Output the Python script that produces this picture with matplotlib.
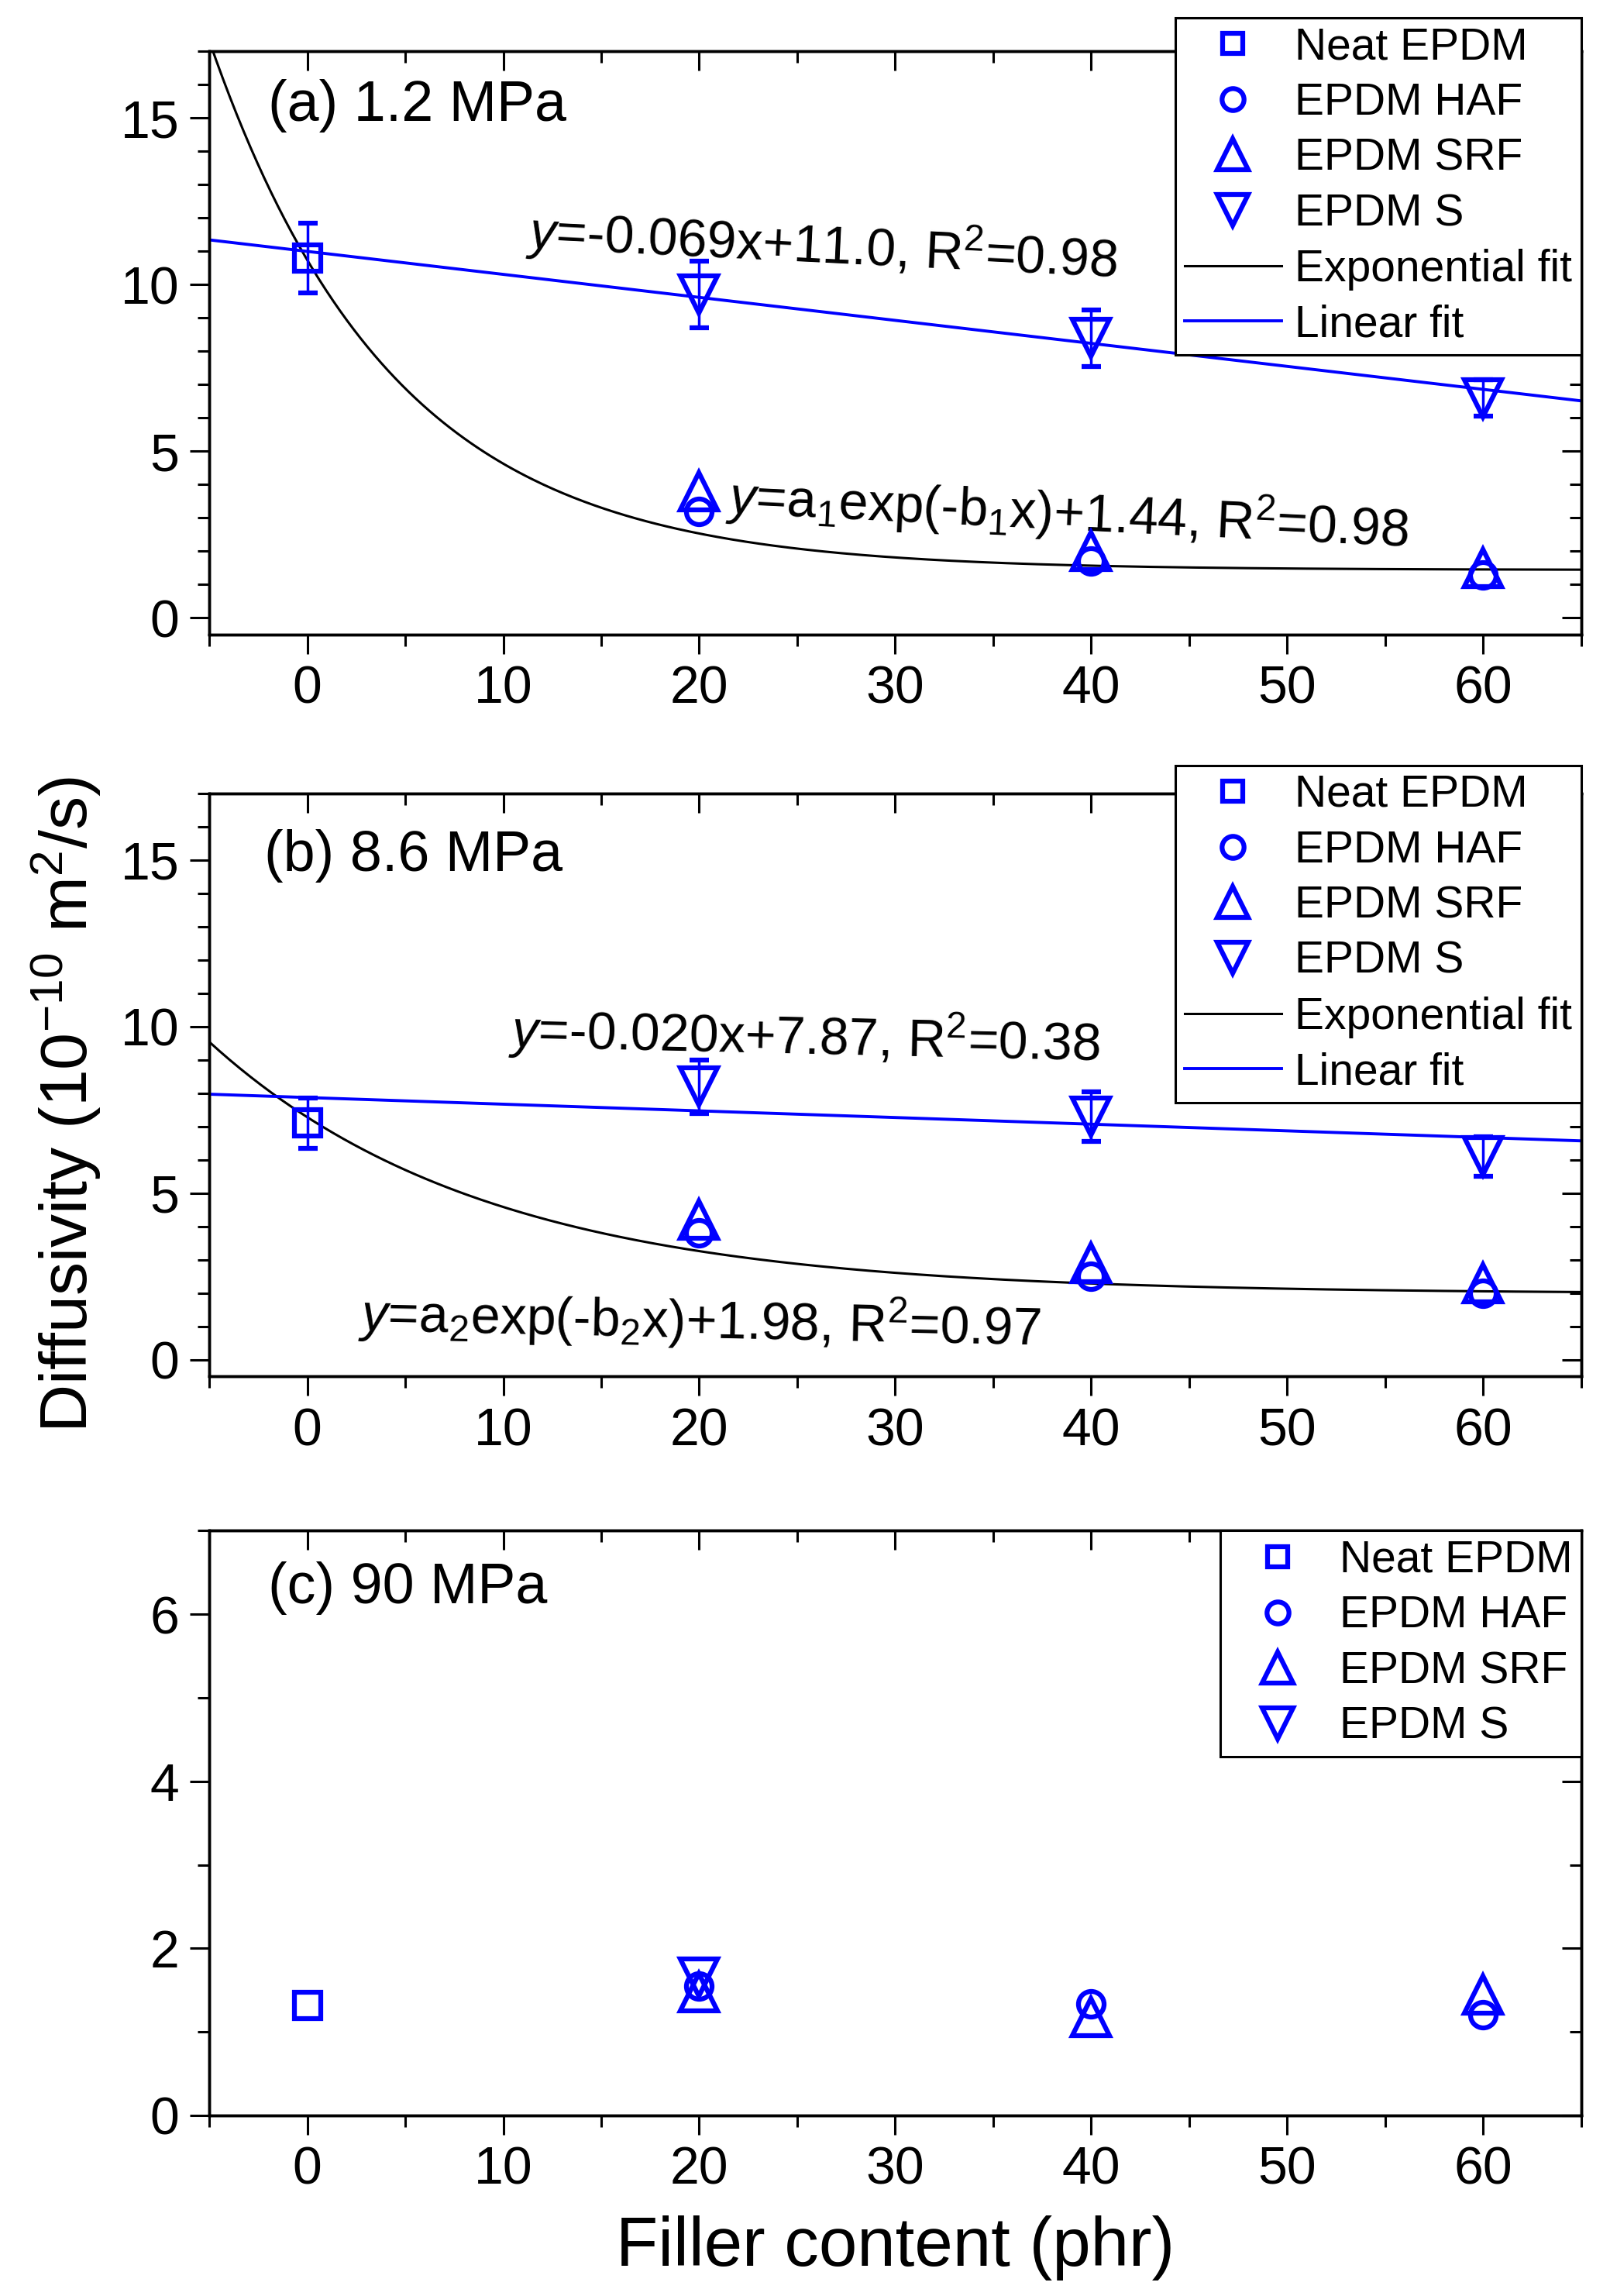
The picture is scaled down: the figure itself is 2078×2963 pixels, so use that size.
import numpy as np
import matplotlib
matplotlib.use("Agg")
import matplotlib.pyplot as plt
from matplotlib.ticker import MultipleLocator
from matplotlib.lines import Line2D

plt.rcParams['font.family'] = ['Liberation Sans', 'DejaVu Sans']
plt.rcParams['mathtext.fontset'] = 'custom'
plt.rcParams['mathtext.rm'] = 'Liberation Sans'
plt.rcParams['mathtext.it'] = 'Liberation Sans:italic'
plt.rcParams['mathtext.bf'] = 'Liberation Sans:bold'

# filler content (phr)
x_neat = [0]
x_fill = [20, 40, 60]

# (a) 1.2 MPa
a_neat = [10.8]
a_neat_err = [1.05]
a_haf = [3.2, 1.7, 1.3]
a_srf = [3.8, 2.0, 1.5]
a_s = [9.7, 8.4, 6.6]
a_s_err = [1.0, 0.85, 0.55]
a_lin = (-0.069, 11.0)          # slope, intercept
a_exp = (9.3, 0.107, 1.44)      # a1, b1, offset

# (b) 8.6 MPa
b_neat = [7.1]
b_neat_err = [0.75]
b_haf = [3.8, 2.5, 2.0]
b_srf = [4.2, 2.9, 2.3]
b_s = [8.2, 7.3, 6.1]
b_s_err = [0.8, 0.75, 0.6]
b_lin = (-0.020, 7.87)
b_exp = (5.3, 0.071, 1.98)

# (c) 90 MPa
c_neat = [1.32]
c_haf = [1.55, 1.33, 1.2]
c_srf = [1.47, 1.18, 1.45]
x_c_s = [20]
c_s = [1.65]

BLUE = '#0000ff'
FS_TICK = 49
FS_LEG = 41
MS = 34
MEW = 4.5

fig = plt.figure(figsize=(20.78, 29.63), dpi=100)
ax_a = fig.add_axes([0.130, 0.7236, 0.852, 0.2540])
ax_b = fig.add_axes([0.130, 0.4005, 0.852, 0.2540])
ax_c = fig.add_axes([0.130, 0.0787, 0.852, 0.2546])

xfit = np.linspace(-5, 65, 400)


def style(ax, ylim, ymajor):
    ax.set_xlim(-5, 65)
    ax.set_ylim(*ylim)
    ax.xaxis.set_major_locator(MultipleLocator(10))
    ax.xaxis.set_minor_locator(MultipleLocator(5))
    ax.yaxis.set_major_locator(MultipleLocator(ymajor))
    ax.yaxis.set_minor_locator(MultipleLocator(1))
    for s in ax.spines.values():
        s.set_linewidth(2.4)
    ax.tick_params(which='both', direction='out', width=2.2, labelsize=FS_TICK, pad=10,
                   top=False, right=False)
    ax.tick_params(which='major', length=18)
    ax.tick_params(which='minor', length=11)


def mirror(ax, ymajor):
    # inward ticks on top and right, no labels
    tx = ax.twiny()
    tx.set_xlim(ax.get_xlim())
    tx.xaxis.set_major_locator(MultipleLocator(10))
    tx.xaxis.set_minor_locator(MultipleLocator(5))
    tx.tick_params(which='both', direction='in', width=2.2, labeltop=False, labelbottom=False,
                   bottom=False, top=True)
    tx.tick_params(which='major', length=18)
    tx.tick_params(which='minor', length=11)
    ty = ax.twinx()
    ty.set_ylim(ax.get_ylim())
    ty.yaxis.set_major_locator(MultipleLocator(ymajor))
    ty.yaxis.set_minor_locator(MultipleLocator(1))
    ty.tick_params(which='both', direction='in', width=2.2, labelright=False, labelleft=False,
                   left=False, right=True)
    ty.tick_params(which='major', length=18)
    ty.tick_params(which='minor', length=11)
    for t in (tx, ty):
        for s in t.spines.values():
            s.set_linewidth(2.4)
    return ty


def points(ax, neat, neat_err, haf, srf, xs, s, s_err):
    ax.errorbar(x_neat, neat, yerr=neat_err, fmt='s', ms=MS * 0.72, mfc='none', mec=BLUE, mew=MEW,
                ecolor=BLUE, elinewidth=2.5, capsize=9, capthick=2.5, zorder=5)
    ax.plot(x_fill, haf, 'o', ms=MS * 0.7, mfc='none', mec=BLUE, mew=MEW, zorder=5)
    ax.plot(x_fill, srf, '^', ms=MS, mfc='none', mec=BLUE, mew=MEW, zorder=5)
    ax.errorbar(xs, s, yerr=s_err, fmt='v', ms=MS, mfc='none', mec=BLUE, mew=MEW,
                ecolor=BLUE, elinewidth=2.5, capsize=9, capthick=2.5, zorder=5)


def fits(ax, lin, ex):
    ax.plot(xfit, ex[0] * np.exp(-ex[1] * xfit) + ex[2], color='black', lw=2.2, zorder=3)
    ax.plot(xfit, lin[0] * xfit + lin[1], color=BLUE, lw=2.8, zorder=3)


def legend(ax, with_fits, top):
    h = [Line2D([], [], ls='none', marker='s', ms=MS * 0.55, mfc='none', mec=BLUE, mew=MEW),
         Line2D([], [], ls='none', marker='o', ms=MS * 0.6, mfc='none', mec=BLUE, mew=MEW),
         Line2D([], [], ls='none', marker='^', ms=MS * 0.85, mfc='none', mec=BLUE, mew=MEW),
         Line2D([], [], ls='none', marker='v', ms=MS * 0.85, mfc='none', mec=BLUE, mew=MEW)]
    labels = ['Neat EPDM', 'EPDM HAF', 'EPDM SRF', 'EPDM S']
    if with_fits:
        h += [Line2D([], [], color='black', lw=2.2), Line2D([], [], color=BLUE, lw=2.8)]
        labels += ['Exponential fit', 'Linear fit']
    leg = ax.legend(h, labels, loc='upper right', bbox_to_anchor=(1.0, top), fontsize=FS_LEG,
                    frameon=True, fancybox=False, edgecolor='black', framealpha=1,
                    borderaxespad=0, borderpad=0.2, labelspacing=0.31, handlelength=2.2,
                    handletextpad=0.3)
    leg.get_frame().set_linewidth(2.2)
    leg.set_zorder(10)


# panel (a)
style(ax_a, (-0.5, 17), 5)
fits(ax_a, a_lin, a_exp)
points(ax_a, a_neat, a_neat_err, a_haf, a_srf, x_fill, a_s, a_s_err)
top_a = mirror(ax_a, 5)
ax_a.text(0.043, 0.907, '(a) 1.2 MPa', transform=ax_a.transAxes, fontsize=53, va='center', ha='left')
ax_a.text(11.2, 11.6, r'$\mathit{y}$=-0.069x+11.0, R$^2$=0.98', fontsize=49, va='center',
          ha='left', rotation=-2.8, rotation_mode='anchor')
ax_a.text(21.4, 3.64, r'$\mathit{y}$=a$_1$exp(-b$_1$x)+1.44, R$^2$=0.98', fontsize=49, va='center',
          ha='left', rotation=-2.8, rotation_mode='anchor')
legend(top_a, True, 1.058)

# panel (b)
style(ax_b, (-0.5, 17), 5)
fits(ax_b, b_lin, b_exp)
points(ax_b, b_neat, b_neat_err, b_haf, b_srf, x_fill, b_s, b_s_err)
top_b = mirror(ax_b, 5)
ax_b.text(0.040, 0.892, '(b) 8.6 MPa', transform=ax_b.transAxes, fontsize=53, va='center', ha='left')
ax_b.text(10.3, 9.88, r'$\mathit{y}$=-0.020x+7.87, R$^2$=0.38', fontsize=49, va='center',
          ha='left', rotation=-1.3, rotation_mode='anchor')
ax_b.text(2.6, 1.37, r'$\mathit{y}$=a$_2$exp(-b$_2$x)+1.98, R$^2$=0.97', fontsize=49, va='center',
          ha='left', rotation=-1.2, rotation_mode='anchor')
legend(top_b, True, 1.048)

# panel (c)
style(ax_c, (0, 7), 2)
ax_c.plot(x_neat, c_neat, 's', ms=MS * 0.72, mfc='none', mec=BLUE, mew=MEW)
ax_c.plot(x_fill, c_haf, 'o', ms=MS * 0.7, mfc='none', mec=BLUE, mew=MEW)
ax_c.plot(x_fill, c_srf, '^', ms=MS, mfc='none', mec=BLUE, mew=MEW)
ax_c.plot(x_c_s, c_s, 'v', ms=MS, mfc='none', mec=BLUE, mew=MEW)
top_c = mirror(ax_c, 2)
ax_c.text(0.043, 0.902, '(c) 90 MPa', transform=ax_c.transAxes, fontsize=53, va='center', ha='left')
legend(top_c, False, 1.0)

fig.text(0.556, 0.021, 'Filler content (phr)', fontsize=64, ha='center', va='center')
fig.text(0.041, 0.519, r'Diffusivity (10$^{-10}$ m$^2$/s)', fontsize=62, ha='center', va='center',
         rotation=90)

fig.savefig('out.png', dpi=100)
